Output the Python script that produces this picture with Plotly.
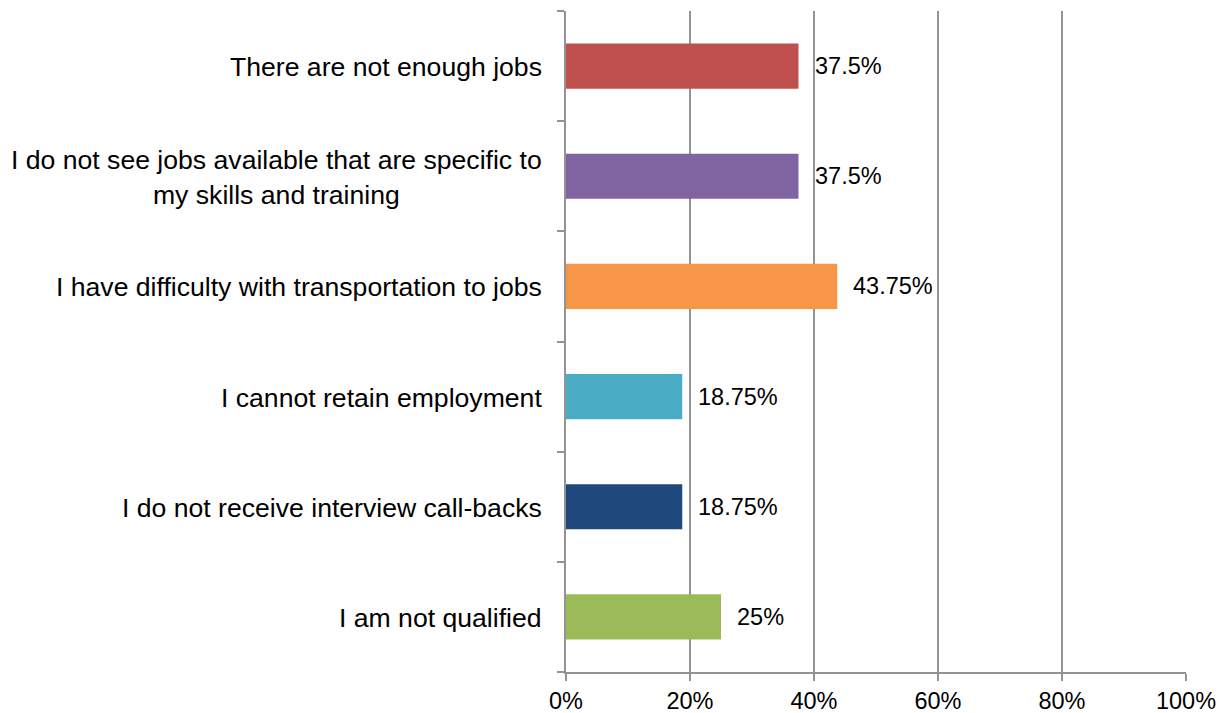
import plotly.graph_objects as go

categories = [
    "There are not enough jobs",
    "I do not see jobs available that are specific to<br>my skills and training",
    "I have difficulty with transportation to jobs",
    "I cannot retain employment",
    "I do not receive interview call-backs",
    "I am not qualified",
]
values = [37.5, 37.5, 43.75, 18.75, 18.75, 25]
colors = ["#C0504D", "#8064A2", "#F79646", "#4BACC6", "#1F497D", "#9BBB59"]
x_ticks = [0, 20, 40, 60, 80, 100]

grid = "#939393"
font = "Liberation Sans, Arial, sans-serif"

fig = go.Figure()
fig.add_trace(go.Bar(
    y=categories, x=values, orientation="h",
    marker=dict(color=colors, line=dict(width=0)),
    hoverinfo="skip", showlegend=False,
))

annotations = []
for c, v in zip(categories, values):
    annotations.append(dict(
        x=0, xref="paper", y=c, yref="y", text=c, showarrow=False,
        xanchor="right", yanchor="middle", align="center", xshift=-22, yshift=-1,
        font=dict(family=font, size=26.6, color="#000000"),
    ))
    annotations.append(dict(
        x=v, xref="x", y=c, yref="y", text=f"{v:g}%", showarrow=False,
        xanchor="left", yanchor="middle", xshift=14,
        font=dict(family=font, size=23.5, color="#000000"),
    ))

fig.update_layout(
    width=1225, height=713,
    margin=dict(l=566, r=39, t=11, b=41, autoexpand=False),
    paper_bgcolor="white", plot_bgcolor="white",
    bargap=0.59,
    annotations=annotations,
    font=dict(family=font, size=23.5, color="#000000"),
)
fig.update_xaxes(
    range=[0, 100], tickvals=x_ticks, ticktext=[f"{t}%" for t in x_ticks],
    showgrid=True, gridcolor=grid, gridwidth=1.6,
    showline=True, linecolor=grid, linewidth=1.6,
    ticks="outside", ticklen=7, tickcolor=grid, tickwidth=1.6,
    tickfont=dict(family=font, size=23.5, color="#000000"),
    zeroline=False, fixedrange=True, automargin=False,
)
fig.update_yaxes(
    categoryorder="array", categoryarray=categories[::-1],
    showticklabels=False, showgrid=False,
    showline=True, linecolor=grid, linewidth=1.6,
    ticks="outside", ticklen=7, tickcolor=grid, tickwidth=1.6,
    tickson="boundaries", zeroline=False, fixedrange=True, automargin=False,
)

fig.write_html("out.html")
